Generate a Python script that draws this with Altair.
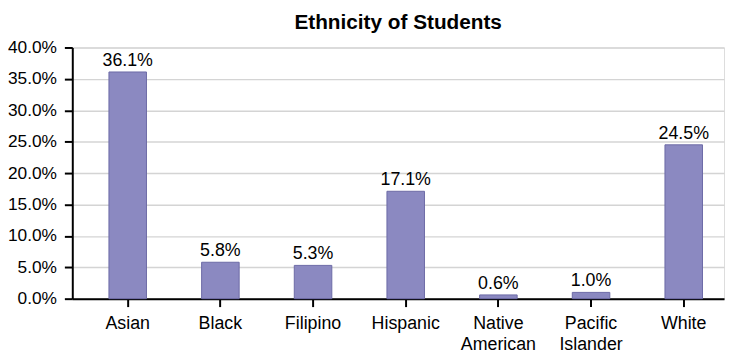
import altair as alt
import pandas as pd

categories = ["Asian", "Black", "Filipino", "Hispanic", "Native American", "Pacific Islander", "White"]
shares = [0.361, 0.058, 0.053, 0.171, 0.006, 0.010, 0.245]
tick_values = [0.0, 0.05, 0.10, 0.15, 0.20, 0.25, 0.30, 0.35, 0.40]

df = pd.DataFrame({"Ethnicity": categories, "Share": shares})

FONT = "Liberation Sans"

x = alt.X(
    "Ethnicity:N",
    sort=categories,
    title=None,
    scale=alt.Scale(paddingInner=0.595, paddingOuter=0.314, align=0.63),
    axis=alt.Axis(
        labelAngle=0,
        labelFontSize=18,
        labelFont=FONT,
        labelColor="black",
        labelPadding=8,
        labelLineHeight=21,
        labelExpr="split(datum.label, ' ')",
        labelOverlap=False,
        tickSize=8,
        tickWidth=2,
        tickColor="black",
        domainColor="black",
        domainWidth=2,
        grid=False,
    ),
)

y = alt.Y(
    "Share:Q",
    title=None,
    scale=alt.Scale(domain=[0, 0.4], nice=False),
    axis=alt.Axis(
        values=tick_values,
        format=".1%",
        labelFontSize=17.5,
        labelFont=FONT,
        labelColor="black",
        labelPadding=8,
        labelOverlap=False,
        tickSize=8,
        tickWidth=2,
        tickColor="black",
        domainColor="black",
        domainWidth=2,
        grid=True,
        gridColor="#d4d4d4",
        gridWidth=1.5,
    ),
)

base = alt.Chart(df).encode(x=x, y=y)

bars = base.mark_bar(color="#8b89c1", stroke="#6c6aa6", strokeWidth=1)

labels = base.mark_text(
    baseline="alphabetic", dy=-6, fontSize=18, font=FONT, color="black"
).encode(text=alt.Text("Share:Q", format=".1%"))

chart = (
    alt.layer(bars, labels)
    .properties(
        width=659,
        height=254,
        autosize=alt.AutoSizeParams(type="none"),
        padding={"left": 65, "top": 38, "right": 2, "bottom": 53},
        title=alt.TitleParams(
            "Ethnicity of Students",
            fontSize=21,
            font=FONT,
            fontWeight="bold",
            color="black",
            anchor="middle",
            offset=6,
        ),
    )
    .configure_view(stroke=None)
    .configure(background="white")
)

chart.save("out.html", embed_options={"renderer": "svg", "actions": False})
